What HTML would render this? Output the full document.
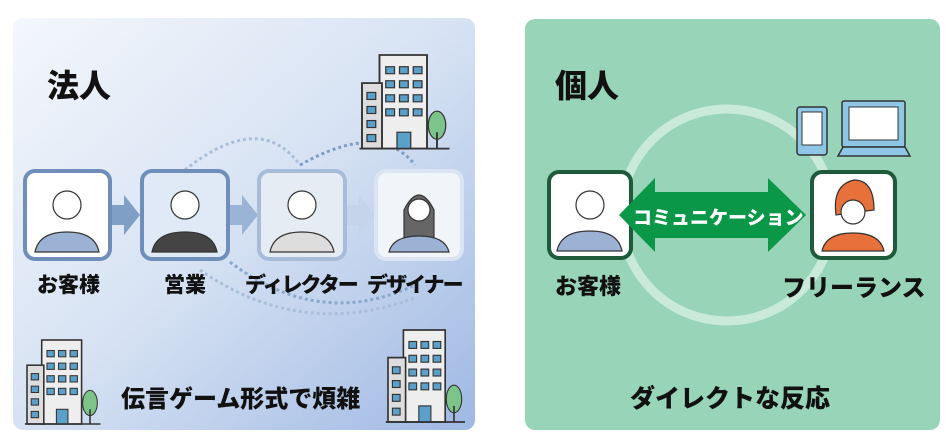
<!DOCTYPE html>
<html><head><meta charset="utf-8"><style>
body{margin:0;width:946px;height:445px;background:#fff;overflow:hidden;position:relative;font-family:"Liberation Sans","Noto Sans CJK JP",sans-serif;}
.t{position:absolute;font-weight:900;color:#111;white-space:nowrap;}
</style></head><body>
<svg width="946" height="445" style="position:absolute;left:0;top:0">
<defs>
<linearGradient id="lg" x1="0" y1="0" x2="1" y2="1">
<stop offset="0" stop-color="#f4f7fc"/><stop offset="0.5" stop-color="#d6e2f3"/><stop offset="1" stop-color="#9fb8e3"/></linearGradient>
<g id="bld">
<rect x="14" y="0" width="38" height="80" fill="#eee" stroke="#333" stroke-width="1.5"/>
<rect x="0" y="24" width="16" height="56" fill="#ddd" stroke="#333" stroke-width="1.5"/>
<g fill="#5aa0c8" stroke="#333" stroke-width="1">
<rect x="19" y="10" width="7" height="6"/><rect x="30" y="10" width="7" height="6"/><rect x="41" y="10" width="7" height="6"/>
<rect x="19" y="22" width="7" height="6"/><rect x="30" y="22" width="7" height="6"/><rect x="41" y="22" width="7" height="6"/>
<rect x="19" y="34" width="7" height="6"/><rect x="30" y="34" width="7" height="6"/><rect x="41" y="34" width="7" height="6"/>
<rect x="19" y="46" width="7" height="6"/><rect x="30" y="46" width="7" height="6"/><rect x="41" y="46" width="7" height="6"/>
<rect x="4" y="32" width="7" height="6"/><rect x="4" y="44" width="7" height="6"/><rect x="4" y="56" width="7" height="6"/><rect x="4" y="68" width="7" height="6"/>
<rect x="28" y="66" width="11" height="14"/></g>
<ellipse cx="60" cy="60" rx="7" ry="12" fill="#7cc48a" stroke="#333"/>
<line x1="60" y1="66" x2="60" y2="80" stroke="#333" stroke-width="1.5"/>
<line x1="-2" y1="80" x2="70" y2="80" stroke="#333" stroke-width="1.5"/>
</g>
</defs>
<rect x="13" y="18" width="462" height="412" rx="10" fill="url(#lg)"/>
<rect x="525" y="19" width="415" height="411" rx="10" fill="#98d4b8"/>
<path d="M185 170 Q260 110 300 165" fill="none" stroke="#a9bfd9" stroke-width="3" stroke-dasharray="3 3"/>
<path d="M300 165 Q380 120 415 165" fill="none" stroke="#7f9dc4" stroke-width="3" stroke-dasharray="3 3"/>
<path d="M200 270 Q300 340 415 298" fill="none" stroke="#a9bfd9" stroke-width="3" stroke-dasharray="3 3"/>
<path d="M230 262 Q320 330 415 285" fill="none" stroke="#8aa7cc" stroke-width="3" stroke-dasharray="3 3"/>
<use href="#bld" transform="translate(362,55) scale(1.25,1.17)"/>
<use href="#bld" transform="translate(27,340) scale(1.05)"/>
<use href="#bld" transform="translate(388,330) scale(1.1,1.15)"/>
<g fill="#7f9fc5"><path d="M110 205h14v-10l16 20-16 20v-10h-14z"/><path d="M228 205h14v-10l16 20-16 20v-10h-14z" fill="#9bb4d6"/><path d="M345 205h14v-10l16 20-16 20v-10h-14z" fill="#c5d4ea"/></g>
<rect x="25" y="171" width="85" height="88" rx="10" fill="#fff" stroke="#6f8fba" stroke-width="4"/>
<rect x="142" y="171" width="86" height="88" rx="10" fill="#dfeaf6" stroke="#6f8fba" stroke-width="4"/>
<rect x="259" y="171" width="86" height="88" rx="10" fill="#e5ecf4" stroke="#a7bcd8" stroke-width="4"/>
<rect x="376" y="171" width="86" height="88" rx="10" fill="#f1f4f9" stroke="#dbe4f2" stroke-width="4"/>
<g stroke="#333" stroke-width="1.2">
<circle cx="67" cy="205" r="14" fill="#fff"/><path d="M35 252q4-20 32-20q28 0 32 20z" fill="#9cb2d4"/>
<circle cx="185" cy="205" r="14" fill="#fff"/><path d="M152 252q4-20 33-20q28 0 32 20z" fill="#444"/>
<circle cx="302" cy="205" r="14" fill="#fff"/><path d="M270 252q4-20 32-20q28 0 32 20z" fill="#ddd"/>
<path d="M404 240v-30q15-30 30 0v30z" fill="#666"/><circle cx="419" cy="210" r="11" fill="#fff"/><path d="M389 252q4-16 30-16q26 0 30 16z" fill="#9cb2d4"/>
</g>
<circle cx="727" cy="215" r="106" fill="none" stroke="#c9ead9" stroke-width="9"/>
<rect x="797" y="107" width="30" height="48" rx="3" fill="#8ec6e6" stroke="#333" stroke-width="1.5"/>
<rect x="802" y="112" width="20" height="33" fill="#fff" stroke="#333"/>
<rect x="842" y="101" width="63" height="46" rx="2" fill="#8ec6e6" stroke="#333" stroke-width="1.5"/>
<rect x="849" y="107" width="49" height="33" fill="#fff" stroke="#333"/>
<path d="M838 156l5-9h62l5 9z" fill="#8ec6e6" stroke="#333" stroke-width="1.5"/>
<rect x="549" y="172" width="82" height="86" rx="10" fill="#fff" stroke="#1f5b3a" stroke-width="4"/>
<rect x="812" y="172" width="83" height="86" rx="10" fill="#fff" stroke="#1f5b3a" stroke-width="4"/>
<g stroke="#333" stroke-width="1.2">
<circle cx="590" cy="205" r="14" fill="#fff"/><path d="M557 251q4-20 33-20q28 0 32 20z" fill="#9cb2d4"/>
<path d="M836 215q-4-30 18-35q20 0 20 30z" fill="#e8703a"/><circle cx="853" cy="212" r="12" fill="#fff"/><path d="M822 251q4-18 31-18q27 0 31 18z" fill="#e8703a"/>
</g>
<path d="M619 215l36-37v14h113v-14l38 37-38 37v-14h-113v14z" fill="#0a9747"/>
</svg>
<div class="t" style="left:47px;top:61px;font-size:32px">法人</div>
<div class="t" style="left:555px;top:61px;font-size:32px">個人</div>
<div class="t" style="left:37px;top:269px;font-size:21px">お客様</div>
<div class="t" style="left:164px;top:269px;font-size:21px">営業</div>
<div class="t" style="left:245px;top:269px;font-size:21px;letter-spacing:-2px">ディレクター</div>
<div class="t" style="left:367px;top:269px;font-size:21px;letter-spacing:-2px">デザイナー</div>
<div class="t" style="left:121px;top:379px;font-size:24px">伝言ゲーム形式で煩雑</div>
<div class="t" style="left:633px;top:203px;font-size:19px;color:#fff;letter-spacing:0px">コミュニケーション</div>
<div class="t" style="left:555px;top:269px;font-size:22px">お客様</div>
<div class="t" style="left:782px;top:268px;font-size:24px">フリーランス</div>
<div class="t" style="left:630px;top:379px;font-size:25px">ダイレクトな反応</div>
</body></html>
